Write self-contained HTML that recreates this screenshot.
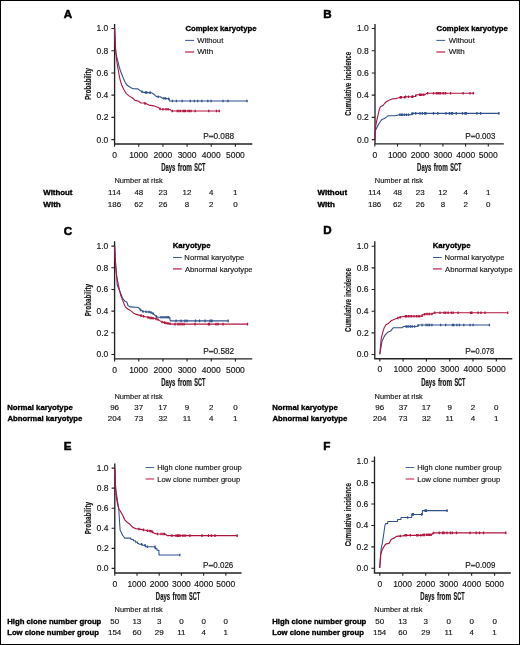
<!DOCTYPE html>
<html><head><meta charset="utf-8"><style>
html,body{margin:0;padding:0;background:#fff;}
#fig{position:relative;width:520px;height:645px;box-sizing:border-box;border:1px solid #000;overflow:hidden;background:#fff;}
svg{position:absolute;left:-1px;top:-1px;will-change:transform;filter:blur(0.3px);}
text{font-family:"Liberation Sans",sans-serif;}
</style></head><body><div id="fig">
<svg width="520" height="645" viewBox="0 0 520 645">
<g><text x="63.82" y="17.8" font-size="11.6" font-weight="bold" fill="#000" stroke="#000" stroke-width="0.55">A</text>
<path d="M114.6 24V144H252.3" fill="none" stroke="#222" stroke-width="1.35"/>
<text x="96.51" y="142.5" font-size="8.5" fill="#141414" stroke="#141414" stroke-width="0.15">0.0</text>
<text x="96.61" y="120.28" font-size="8.5" fill="#141414" stroke="#141414" stroke-width="0.15">0.2</text>
<text x="96.42" y="98.06" font-size="8.5" fill="#141414" stroke="#141414" stroke-width="0.15">0.4</text>
<text x="96.54" y="75.84" font-size="8.5" fill="#141414" stroke="#141414" stroke-width="0.15">0.6</text>
<text x="96.54" y="53.62" font-size="8.5" fill="#141414" stroke="#141414" stroke-width="0.15">0.8</text>
<text x="96.51" y="31.4" font-size="8.5" fill="#141414" stroke="#141414" stroke-width="0.15">1.0</text>
<text x="112.24" y="157.7" font-size="8.5" fill="#141414" stroke="#141414" stroke-width="0.15">0</text>
<text x="129.15" y="157.7" font-size="8.5" fill="#141414" stroke="#141414" stroke-width="0.15">1000</text>
<text x="153.42" y="157.7" font-size="8.5" fill="#141414" stroke="#141414" stroke-width="0.15">2000</text>
<text x="177.63" y="157.7" font-size="8.5" fill="#141414" stroke="#141414" stroke-width="0.15">3000</text>
<text x="201.86" y="157.7" font-size="8.5" fill="#141414" stroke="#141414" stroke-width="0.15">4000</text>
<text x="225.94" y="157.7" font-size="8.5" fill="#141414" stroke="#141414" stroke-width="0.15">5000</text>
<path d="M111.4 139.6h3.2M111.4 117.38h3.2M111.4 95.16h3.2M111.4 72.94h3.2M111.4 50.72h3.2M111.4 28.5h3.2M114.6 144v2.8M138.76 144v2.8M162.92 144v2.8M187.08 144v2.8M211.24 144v2.8M235.4 144v2.8" stroke="#222" stroke-width="1.1" fill="none"/>
<text transform="translate(161.16 170.8) scale(0.5954 1)" font-size="10" font-weight="bold" fill="#141414" stroke="#141414" stroke-width="0.2">Days</text>
<text transform="translate(177.85 170.8) scale(0.6337 1)" font-size="10" font-weight="bold" fill="#141414" stroke="#141414" stroke-width="0.2">from</text>
<text transform="translate(194.29 170.8) scale(0.5550 1)" font-size="10" font-weight="bold" fill="#141414" stroke="#141414" stroke-width="0.2">SCT</text>
<text transform="translate(91.2 99.3) rotate(-90) translate(-0.41 0) scale(0.6265 1)" font-size="9.8" font-weight="bold" fill="#141414" stroke="#141414" stroke-width="0.2">Probability</text>
<text transform="translate(203.32 138.5) scale(1.0048 1)" font-size="8.2" fill="#141414" stroke="#141414" stroke-width="0.15">P</text>
<path d="M208.8 136.5H213.5" stroke="#444" stroke-width="1.7"/>
<text transform="translate(213.49 138.5) scale(1.0070 1)" font-size="8.2" fill="#141414" stroke="#141414" stroke-width="0.15">0.088</text>
<text transform="translate(185.39 30.8) scale(0.9765 1)" font-size="7.9" font-weight="bold" fill="#000" stroke="#000" stroke-width="0.35">Complex karyotype</text>
<path d="M185.1 40.4H194.1" stroke="#3d5e9c" stroke-width="1.05"/>
<path d="M185.1 52H194.1" stroke="#c83a62" stroke-width="1.4"/>
<text transform="translate(197.17 42.8) scale(0.9775 1)" font-size="7.9" fill="#141414" stroke="#141414" stroke-width="0.15">Without</text>
<text transform="translate(197.17 54.1) scale(1.0221 1)" font-size="7.9" fill="#141414" stroke="#141414" stroke-width="0.15">With</text>
<text transform="translate(114.39 183.1) scale(0.9482 1)" font-size="7.85" fill="#141414" stroke="#141414" stroke-width="0.15">Number at risk</text>
<text transform="translate(43.3 195) scale(0.9956 1)" font-size="7.9" font-weight="bold" fill="#000" stroke="#000" stroke-width="0.35">Without</text>
<text transform="translate(108.04 195) scale(1.0800 1)" font-size="7.4" fill="#141414" stroke="#141414" stroke-width="0.15">114</text>
<text transform="translate(134.4 195) scale(1.0800 1)" font-size="7.4" fill="#141414" stroke="#141414" stroke-width="0.15">48</text>
<text transform="translate(158.44 195) scale(1.0800 1)" font-size="7.4" fill="#141414" stroke="#141414" stroke-width="0.15">23</text>
<text transform="translate(182.53 195) scale(1.0800 1)" font-size="7.4" fill="#141414" stroke="#141414" stroke-width="0.15">12</text>
<text transform="translate(209.04 195) scale(1.0800 1)" font-size="7.4" fill="#141414" stroke="#141414" stroke-width="0.15">4</text>
<text transform="translate(233.07 195) scale(1.0800 1)" font-size="7.4" fill="#141414" stroke="#141414" stroke-width="0.15">1</text>
<text transform="translate(43.3 206.6) scale(1.0267 1)" font-size="7.9" font-weight="bold" fill="#000" stroke="#000" stroke-width="0.35">With</text>
<text transform="translate(107.8 206.6) scale(1.0800 1)" font-size="7.4" fill="#141414" stroke="#141414" stroke-width="0.15">186</text>
<text transform="translate(134.32 206.6) scale(1.0800 1)" font-size="7.4" fill="#141414" stroke="#141414" stroke-width="0.15">62</text>
<text transform="translate(158.44 206.6) scale(1.0800 1)" font-size="7.4" fill="#141414" stroke="#141414" stroke-width="0.15">26</text>
<text transform="translate(184.86 206.6) scale(1.0800 1)" font-size="7.4" fill="#141414" stroke="#141414" stroke-width="0.15">8</text>
<text transform="translate(209.02 206.6) scale(1.0800 1)" font-size="7.4" fill="#141414" stroke="#141414" stroke-width="0.15">2</text>
<text transform="translate(233.18 206.6) scale(1.0800 1)" font-size="7.4" fill="#141414" stroke="#141414" stroke-width="0.15">0</text>
<path d="M114.6 28.5 L115.1 40 L115.7 51.3 L116.4 55 L117.3 59 L119.2 66.8 L120.5 71 L121.9 74.5 L123.1 77.6 L124.5 81 L125.6 83.1 L127.5 85.6 L130.6 87.4 L133.1 88.7 L138 88.9 L140.3 90.7 L143.2 92.4 L147.2 92.6 L150.7 92.6 L153 93.5 L155.3 95.6 L157 96.8 L160.5 96.8 L162.2 98.1 L168 98.7 L169.2 98.7 L169.4 101 L247.7 101" fill="none" stroke="#30528c" stroke-width="1.1" stroke-linejoin="round"/>
<path d="M114.6 28.5 L115.1 40 L115.7 51.3 L116.5 59 L117.7 66.8 L118.6 72 L119.6 77.6 L120.6 81.5 L121.9 85.6 L124.4 90.5 L126.3 93.6 L129.4 96.1 L132.5 98 L135 100.4 L138 101 L140.9 103 L143.8 103 L146.7 103.9 L149 105.1 L152.4 105.6 L155.3 106.2 L158.2 107.4 L159.9 108.8 L161.6 109.3 L168.6 109.3 L170.3 109.7 L171.4 111 L220 111" fill="none" stroke="#b0153f" stroke-width="1.1" stroke-linejoin="round"/>
<path d="M142 90.4v2.6M145.5 91.22v2.6M146.7 91.27v2.6M150.1 91.3v2.6M158.2 95.5v2.6M164 96.99v2.6M165.7 97.16v2.6M168.6 97.4v2.6M172.4 99.7v2.6M176.4 99.7v2.6M182.2 99.7v2.6M190.3 99.7v2.6M194.4 99.7v2.6M197.7 99.7v2.6M201.8 99.7v2.6M207.8 99.7v2.6M211.1 99.7v2.6M223 99.7v2.6M227.9 99.7v2.6M246.9 99.7v2.6" stroke="#30528c" stroke-width="1.3" fill="none"/>
<path d="M145 102.07v2.6M160 107.53v2.6M163 108v2.6M166 108v2.6M168 108v2.6M172.4 109.7v2.6M177.3 109.7v2.6M178.9 109.7v2.6M180.5 109.7v2.6M183 109.7v2.6M184.3 109.7v2.6M185.4 109.7v2.6M187.9 109.7v2.6M189.5 109.7v2.6M191.1 109.7v2.6M195.2 109.7v2.6M208.8 109.7v2.6M216.5 109.7v2.6M219.2 109.7v2.6" stroke="#b0153f" stroke-width="1.3" fill="none"/></g>
<g><text x="323.33" y="17.8" font-size="11.6" font-weight="bold" fill="#000" stroke="#000" stroke-width="0.55">B</text>
<path d="M375 24V143.8H503.8" fill="none" stroke="#222" stroke-width="1.35"/>
<text x="356.91" y="142.5" font-size="8.5" fill="#141414" stroke="#141414" stroke-width="0.15">0.0</text>
<text x="357.01" y="120.28" font-size="8.5" fill="#141414" stroke="#141414" stroke-width="0.15">0.2</text>
<text x="356.82" y="98.06" font-size="8.5" fill="#141414" stroke="#141414" stroke-width="0.15">0.4</text>
<text x="356.94" y="75.84" font-size="8.5" fill="#141414" stroke="#141414" stroke-width="0.15">0.6</text>
<text x="356.94" y="53.62" font-size="8.5" fill="#141414" stroke="#141414" stroke-width="0.15">0.8</text>
<text x="356.91" y="31.4" font-size="8.5" fill="#141414" stroke="#141414" stroke-width="0.15">1.0</text>
<text x="372.44" y="157.5" font-size="8.5" fill="#141414" stroke="#141414" stroke-width="0.15">0</text>
<text x="387.89" y="157.5" font-size="8.5" fill="#141414" stroke="#141414" stroke-width="0.15">1000</text>
<text x="410.7" y="157.5" font-size="8.5" fill="#141414" stroke="#141414" stroke-width="0.15">2000</text>
<text x="433.45" y="157.5" font-size="8.5" fill="#141414" stroke="#141414" stroke-width="0.15">3000</text>
<text x="456.22" y="157.5" font-size="8.5" fill="#141414" stroke="#141414" stroke-width="0.15">4000</text>
<text x="478.84" y="157.5" font-size="8.5" fill="#141414" stroke="#141414" stroke-width="0.15">5000</text>
<path d="M371.8 139.6h3.2M371.8 117.38h3.2M371.8 95.16h3.2M371.8 72.94h3.2M371.8 50.72h3.2M371.8 28.5h3.2M374.8 143.8v2.8M397.5 143.8v2.8M420.2 143.8v2.8M442.9 143.8v2.8M465.6 143.8v2.8M488.3 143.8v2.8" stroke="#222" stroke-width="1.1" fill="none"/>
<text transform="translate(417.11 170.8) scale(0.5954 1)" font-size="10" font-weight="bold" fill="#141414" stroke="#141414" stroke-width="0.2">Days</text>
<text transform="translate(433.8 170.8) scale(0.6337 1)" font-size="10" font-weight="bold" fill="#141414" stroke="#141414" stroke-width="0.2">from</text>
<text transform="translate(450.24 170.8) scale(0.5550 1)" font-size="10" font-weight="bold" fill="#141414" stroke="#141414" stroke-width="0.2">SCT</text>
<text transform="translate(351.4 115.5) rotate(-90) translate(-0.24 0) scale(0.6238 1)" font-size="9.8" font-weight="bold" fill="#141414" stroke="#141414" stroke-width="0.2">Cumulative</text>
<text transform="translate(351.4 115.5) rotate(-90) translate(35.18 0) scale(0.6335 1)" font-size="9.8" font-weight="bold" fill="#141414" stroke="#141414" stroke-width="0.2">incidence</text>
<text transform="translate(465.32 138.5) scale(1.0048 1)" font-size="8.2" fill="#141414" stroke="#141414" stroke-width="0.15">P</text>
<path d="M470.8 136.5H475.5" stroke="#444" stroke-width="1.7"/>
<text transform="translate(475.5 138.5) scale(0.9667 1)" font-size="8.2" fill="#141414" stroke="#141414" stroke-width="0.15">0.003</text>
<text transform="translate(436.59 30.8) scale(0.9765 1)" font-size="7.9" font-weight="bold" fill="#000" stroke="#000" stroke-width="0.35">Complex karyotype</text>
<path d="M436.4 40.4H445.2" stroke="#3d5e9c" stroke-width="1.05"/>
<path d="M436.4 52H445.2" stroke="#c83a62" stroke-width="1.4"/>
<text transform="translate(448.67 42.8) scale(0.9775 1)" font-size="7.9" fill="#141414" stroke="#141414" stroke-width="0.15">Without</text>
<text transform="translate(448.67 54.1) scale(1.0221 1)" font-size="7.9" fill="#141414" stroke="#141414" stroke-width="0.15">With</text>
<text transform="translate(374.79 183.1) scale(0.9482 1)" font-size="7.85" fill="#141414" stroke="#141414" stroke-width="0.15">Number at risk</text>
<text transform="translate(317.5 195) scale(1.0092 1)" font-size="7.9" font-weight="bold" fill="#000" stroke="#000" stroke-width="0.35">Without</text>
<text transform="translate(368.24 195) scale(1.0800 1)" font-size="7.4" fill="#141414" stroke="#141414" stroke-width="0.15">114</text>
<text transform="translate(393.14 195) scale(1.0800 1)" font-size="7.4" fill="#141414" stroke="#141414" stroke-width="0.15">48</text>
<text transform="translate(415.72 195) scale(1.0800 1)" font-size="7.4" fill="#141414" stroke="#141414" stroke-width="0.15">23</text>
<text transform="translate(438.35 195) scale(1.0800 1)" font-size="7.4" fill="#141414" stroke="#141414" stroke-width="0.15">12</text>
<text transform="translate(463.4 195) scale(1.0800 1)" font-size="7.4" fill="#141414" stroke="#141414" stroke-width="0.15">4</text>
<text transform="translate(485.97 195) scale(1.0800 1)" font-size="7.4" fill="#141414" stroke="#141414" stroke-width="0.15">1</text>
<text transform="translate(317.5 206.6) scale(1.0267 1)" font-size="7.9" font-weight="bold" fill="#000" stroke="#000" stroke-width="0.35">With</text>
<text transform="translate(368 206.6) scale(1.0800 1)" font-size="7.4" fill="#141414" stroke="#141414" stroke-width="0.15">186</text>
<text transform="translate(393.06 206.6) scale(1.0800 1)" font-size="7.4" fill="#141414" stroke="#141414" stroke-width="0.15">62</text>
<text transform="translate(415.72 206.6) scale(1.0800 1)" font-size="7.4" fill="#141414" stroke="#141414" stroke-width="0.15">26</text>
<text transform="translate(440.68 206.6) scale(1.0800 1)" font-size="7.4" fill="#141414" stroke="#141414" stroke-width="0.15">8</text>
<text transform="translate(463.38 206.6) scale(1.0800 1)" font-size="7.4" fill="#141414" stroke="#141414" stroke-width="0.15">2</text>
<text transform="translate(486.08 206.6) scale(1.0800 1)" font-size="7.4" fill="#141414" stroke="#141414" stroke-width="0.15">0</text>
<path d="M374.9 139.4 L374.95 131.5 L377 127.3 L378.7 124 L380.4 121.5 L382 119.4 L384.6 118.5 L386.6 116.9 L387.9 115.8 L395 115.8 L396.9 115.4 L398.8 114.8 L410.4 114.8 L412.3 113.6 L413.3 113.4 L499.1 113.4" fill="none" stroke="#30528c" stroke-width="1.1" stroke-linejoin="round"/>
<path d="M374.9 139.4 L375 133 L375.6 127 L376.2 123.1 L377.9 115.6 L379.5 108.9 L380.4 106.8 L382.9 105.6 L384.6 103.5 L386.6 101.4 L389.6 100.1 L392.1 98.9 L395 98.7 L398.8 97.7 L400.8 97.2 L404.6 97.2 L405.6 96.7 L412.3 96.7 L415.2 96.3 L416.6 94.8 L424.8 94.8 L426.7 93.4 L427.7 93.2 L473.7 93.2" fill="none" stroke="#b0153f" stroke-width="1.1" stroke-linejoin="round"/>
<path d="M399.8 113.5v2.6M401.3 113.5v2.6M402.7 113.5v2.6M404.6 113.5v2.6M406.5 113.5v2.6M408.5 113.5v2.6M411.8 112.62v2.6M412.8 112.2v2.6M415.7 112.1v2.6M420 112.1v2.6M422.4 112.1v2.6M424.8 112.1v2.6M425.8 112.1v2.6M433.5 112.1v2.6M437.8 112.1v2.6M446 112.1v2.6M449.4 112.1v2.6M451.3 112.1v2.6M452.5 112.1v2.6M456.3 112.1v2.6M462.5 112.1v2.6M465 112.1v2.6M466.3 112.1v2.6M476.9 112.1v2.6M480.6 112.1v2.6M498.9 112.1v2.6" stroke="#30528c" stroke-width="1.3" fill="none"/>
<path d="M400.3 96.03v2.6M401.3 95.9v2.6M404.6 95.9v2.6M405.6 95.4v2.6M408.5 95.4v2.6M411.8 95.4v2.6M412.8 95.33v2.6M415.7 94.46v2.6M419.5 93.5v2.6M420.5 93.5v2.6M421.9 93.5v2.6M423.8 93.5v2.6M427.7 91.9v2.6M433.5 91.9v2.6M436.3 91.9v2.6M437.8 91.9v2.6M439.2 91.9v2.6M440.6 91.9v2.6M443.1 91.9v2.6M443.8 91.9v2.6M445.6 91.9v2.6M450.6 91.9v2.6M463.1 91.9v2.6M470 91.9v2.6M473.3 91.9v2.6" stroke="#b0153f" stroke-width="1.3" fill="none"/></g>
<g><text x="63.64" y="234.6" font-size="11.6" font-weight="bold" fill="#000" stroke="#000" stroke-width="0.55">C</text>
<path d="M114.6 241.2V358.8H252.3" fill="none" stroke="#222" stroke-width="1.35"/>
<text x="96.51" y="357.4" font-size="8.5" fill="#141414" stroke="#141414" stroke-width="0.15">0.0</text>
<text x="96.61" y="335.72" font-size="8.5" fill="#141414" stroke="#141414" stroke-width="0.15">0.2</text>
<text x="96.42" y="314.04" font-size="8.5" fill="#141414" stroke="#141414" stroke-width="0.15">0.4</text>
<text x="96.54" y="292.36" font-size="8.5" fill="#141414" stroke="#141414" stroke-width="0.15">0.6</text>
<text x="96.54" y="270.68" font-size="8.5" fill="#141414" stroke="#141414" stroke-width="0.15">0.8</text>
<text x="96.51" y="249" font-size="8.5" fill="#141414" stroke="#141414" stroke-width="0.15">1.0</text>
<text x="112.24" y="372.5" font-size="8.5" fill="#141414" stroke="#141414" stroke-width="0.15">0</text>
<text x="129.15" y="372.5" font-size="8.5" fill="#141414" stroke="#141414" stroke-width="0.15">1000</text>
<text x="153.42" y="372.5" font-size="8.5" fill="#141414" stroke="#141414" stroke-width="0.15">2000</text>
<text x="177.63" y="372.5" font-size="8.5" fill="#141414" stroke="#141414" stroke-width="0.15">3000</text>
<text x="201.86" y="372.5" font-size="8.5" fill="#141414" stroke="#141414" stroke-width="0.15">4000</text>
<text x="225.94" y="372.5" font-size="8.5" fill="#141414" stroke="#141414" stroke-width="0.15">5000</text>
<path d="M111.4 354.5h3.2M111.4 332.82h3.2M111.4 311.14h3.2M111.4 289.46h3.2M111.4 267.78h3.2M111.4 246.1h3.2M114.6 358.8v2.8M138.76 358.8v2.8M162.92 358.8v2.8M187.08 358.8v2.8M211.24 358.8v2.8M235.4 358.8v2.8" stroke="#222" stroke-width="1.1" fill="none"/>
<text transform="translate(161.16 386.4) scale(0.5954 1)" font-size="10" font-weight="bold" fill="#141414" stroke="#141414" stroke-width="0.2">Days</text>
<text transform="translate(177.85 386.4) scale(0.6337 1)" font-size="10" font-weight="bold" fill="#141414" stroke="#141414" stroke-width="0.2">from</text>
<text transform="translate(194.29 386.4) scale(0.5550 1)" font-size="10" font-weight="bold" fill="#141414" stroke="#141414" stroke-width="0.2">SCT</text>
<text transform="translate(91.2 315.9) rotate(-90) translate(-0.41 0) scale(0.6405 1)" font-size="9.8" font-weight="bold" fill="#141414" stroke="#141414" stroke-width="0.2">Probability</text>
<text transform="translate(203.32 353.6) scale(1.0048 1)" font-size="8.2" fill="#141414" stroke="#141414" stroke-width="0.15">P</text>
<path d="M208.8 351.6H213.5" stroke="#444" stroke-width="1.7"/>
<text transform="translate(213.49 353.6) scale(1.0104 1)" font-size="8.2" fill="#141414" stroke="#141414" stroke-width="0.15">0.582</text>
<text transform="translate(172.69 248.2) scale(0.9804 1)" font-size="7.9" font-weight="bold" fill="#000" stroke="#000" stroke-width="0.35">Karyotype</text>
<path d="M173 257.5H181.8" stroke="#3d5e9c" stroke-width="1.05"/>
<path d="M173 268.9H181.8" stroke="#c83a62" stroke-width="1.4"/>
<text transform="translate(184.37 260.1) scale(0.9719 1)" font-size="7.9" fill="#141414" stroke="#141414" stroke-width="0.15">Normal karyotype</text>
<text transform="translate(184.98 271.5) scale(0.9630 1)" font-size="7.9" fill="#141414" stroke="#141414" stroke-width="0.15">Abnormal karyotype</text>
<text transform="translate(114.39 398.9) scale(0.9482 1)" font-size="7.85" fill="#141414" stroke="#141414" stroke-width="0.15">Number at risk</text>
<text transform="translate(7.19 410.1) scale(0.9826 1)" font-size="7.9" font-weight="bold" fill="#000" stroke="#000" stroke-width="0.35">Normal karyotype</text>
<text transform="translate(110.14 410.1) scale(1.0800 1)" font-size="7.4" fill="#141414" stroke="#141414" stroke-width="0.15">96</text>
<text transform="translate(134.36 410.1) scale(1.0800 1)" font-size="7.4" fill="#141414" stroke="#141414" stroke-width="0.15">37</text>
<text transform="translate(158.37 410.1) scale(1.0800 1)" font-size="7.4" fill="#141414" stroke="#141414" stroke-width="0.15">17</text>
<text transform="translate(184.86 410.1) scale(1.0800 1)" font-size="7.4" fill="#141414" stroke="#141414" stroke-width="0.15">9</text>
<text transform="translate(209.02 410.1) scale(1.0800 1)" font-size="7.4" fill="#141414" stroke="#141414" stroke-width="0.15">2</text>
<text transform="translate(233.18 410.1) scale(1.0800 1)" font-size="7.4" fill="#141414" stroke="#141414" stroke-width="0.15">0</text>
<text transform="translate(7.51 421.3) scale(0.9811 1)" font-size="7.9" font-weight="bold" fill="#000" stroke="#000" stroke-width="0.35">Abnormal karyotype</text>
<text transform="translate(107.85 421.3) scale(1.0800 1)" font-size="7.4" fill="#141414" stroke="#141414" stroke-width="0.15">204</text>
<text transform="translate(134.28 421.3) scale(1.0800 1)" font-size="7.4" fill="#141414" stroke="#141414" stroke-width="0.15">73</text>
<text transform="translate(158.52 421.3) scale(1.0800 1)" font-size="7.4" fill="#141414" stroke="#141414" stroke-width="0.15">32</text>
<text transform="translate(182.82 421.3) scale(1.0800 1)" font-size="7.4" fill="#141414" stroke="#141414" stroke-width="0.15">11</text>
<text transform="translate(209.04 421.3) scale(1.0800 1)" font-size="7.4" fill="#141414" stroke="#141414" stroke-width="0.15">4</text>
<text transform="translate(233.07 421.3) scale(1.0800 1)" font-size="7.4" fill="#141414" stroke="#141414" stroke-width="0.15">1</text>
<path d="M114.6 246.1 L115.2 258 L115.9 268 L116.6 276 L117.2 285 L120.1 291.9 L122.4 297.7 L124.7 301.1 L127 302.3 L128.1 305.8 L130.5 306.9 L138.5 307.5 L140.3 309.8 L143.1 311.5 L150.1 312.1 L153.5 313.8 L155.8 316.1 L157.6 317.3 L169.7 317.3 L170.2 320.9 L228.4 320.9" fill="none" stroke="#30528c" stroke-width="1.1" stroke-linejoin="round"/>
<path d="M114.6 246.1 L115.2 258 L115.9 268 L116.6 275.8 L118.9 287.3 L120.7 295.4 L123 301.1 L125.3 306.9 L128.1 309.2 L131 310.9 L133.9 313.3 L136.2 314.4 L140.8 315.6 L145.4 316.7 L150.1 317.9 L154.7 318.4 L158.1 319.6 L161.6 321.9 L166.2 323.1 L169.7 323.6 L171.4 324.1 L247.8 324.1" fill="none" stroke="#b0153f" stroke-width="1.1" stroke-linejoin="round"/>
<path d="M140.5 308.62v2.6M143 310.14v2.6M146 310.45v2.6M149 310.71v2.6M151 311.25v2.6M153 312.25v2.6M156.5 315.27v2.6M161 316v2.6M163 316v2.6M165 316v2.6M167 316v2.6M168.5 316v2.6M176 319.6v2.6M181 319.6v2.6M185 319.6v2.6M187 319.6v2.6M195.5 319.6v2.6M199.5 319.6v2.6M205 319.6v2.6M210 319.6v2.6M211.5 319.6v2.6M212 319.6v2.6M228.2 319.6v2.6" stroke="#30528c" stroke-width="1.3" fill="none"/>
<path d="M141 314.35v2.6M143.5 314.95v2.6M148 316.06v2.6M150 316.57v2.6M151.5 316.75v2.6M153 316.92v2.6M156 317.56v2.6M158 318.26v2.6M162 320.7v2.6M164.5 321.36v2.6M166 321.75v2.6M168 322.06v2.6M170 322.39v2.6M175 322.8v2.6M178 322.8v2.6M180 322.8v2.6M182 322.8v2.6M184 322.8v2.6M195 322.8v2.6M208.5 322.8v2.6M209.5 322.8v2.6M216 322.8v2.6M218 322.8v2.6M223 322.8v2.6M247.5 322.8v2.6" stroke="#b0153f" stroke-width="1.3" fill="none"/></g>
<g><text x="323.33" y="234.4" font-size="11.6" font-weight="bold" fill="#000" stroke="#000" stroke-width="0.55">D</text>
<path d="M374.8 241.2V358.7H512.3" fill="none" stroke="#222" stroke-width="1.35"/>
<text x="356.71" y="357.4" font-size="8.5" fill="#141414" stroke="#141414" stroke-width="0.15">0.0</text>
<text x="356.81" y="335.74" font-size="8.5" fill="#141414" stroke="#141414" stroke-width="0.15">0.2</text>
<text x="356.62" y="314.08" font-size="8.5" fill="#141414" stroke="#141414" stroke-width="0.15">0.4</text>
<text x="356.74" y="292.42" font-size="8.5" fill="#141414" stroke="#141414" stroke-width="0.15">0.6</text>
<text x="356.74" y="270.76" font-size="8.5" fill="#141414" stroke="#141414" stroke-width="0.15">0.8</text>
<text x="356.71" y="249.1" font-size="8.5" fill="#141414" stroke="#141414" stroke-width="0.15">1.0</text>
<text x="377.44" y="372.4" font-size="8.5" fill="#141414" stroke="#141414" stroke-width="0.15">0</text>
<text x="393.49" y="372.4" font-size="8.5" fill="#141414" stroke="#141414" stroke-width="0.15">1000</text>
<text x="416.9" y="372.4" font-size="8.5" fill="#141414" stroke="#141414" stroke-width="0.15">2000</text>
<text x="440.25" y="372.4" font-size="8.5" fill="#141414" stroke="#141414" stroke-width="0.15">3000</text>
<text x="463.62" y="372.4" font-size="8.5" fill="#141414" stroke="#141414" stroke-width="0.15">4000</text>
<text x="486.84" y="372.4" font-size="8.5" fill="#141414" stroke="#141414" stroke-width="0.15">5000</text>
<path d="M371.6 354.5h3.2M371.6 332.84h3.2M371.6 311.18h3.2M371.6 289.52h3.2M371.6 267.86h3.2M371.6 246.2h3.2M379.8 358.7v2.8M403.1 358.7v2.8M426.4 358.7v2.8M449.7 358.7v2.8M473 358.7v2.8M496.3 358.7v2.8" stroke="#222" stroke-width="1.1" fill="none"/>
<text transform="translate(421.26 386.4) scale(0.5954 1)" font-size="10" font-weight="bold" fill="#141414" stroke="#141414" stroke-width="0.2">Days</text>
<text transform="translate(437.95 386.4) scale(0.6337 1)" font-size="10" font-weight="bold" fill="#141414" stroke="#141414" stroke-width="0.2">from</text>
<text transform="translate(454.39 386.4) scale(0.5550 1)" font-size="10" font-weight="bold" fill="#141414" stroke="#141414" stroke-width="0.2">SCT</text>
<text transform="translate(351.4 331.75) rotate(-90) translate(-0.24 0) scale(0.6229 1)" font-size="9.8" font-weight="bold" fill="#141414" stroke="#141414" stroke-width="0.2">Cumulative</text>
<text transform="translate(351.4 331.75) rotate(-90) translate(35.12 0) scale(0.6325 1)" font-size="9.8" font-weight="bold" fill="#141414" stroke="#141414" stroke-width="0.2">incidence</text>
<text transform="translate(465.32 353.6) scale(1.0048 1)" font-size="8.2" fill="#141414" stroke="#141414" stroke-width="0.15">P</text>
<path d="M470.8 351.6H475.5" stroke="#444" stroke-width="1.7"/>
<text transform="translate(475.52 353.6) scale(0.9063 1)" font-size="8.2" fill="#141414" stroke="#141414" stroke-width="0.15">0.078</text>
<text transform="translate(432.69 248.2) scale(0.9804 1)" font-size="7.9" font-weight="bold" fill="#000" stroke="#000" stroke-width="0.35">Karyotype</text>
<path d="M433 257.5H441.8" stroke="#3d5e9c" stroke-width="1.05"/>
<path d="M433 268.9H441.8" stroke="#c83a62" stroke-width="1.4"/>
<text transform="translate(444.47 260.1) scale(0.9719 1)" font-size="7.9" fill="#141414" stroke="#141414" stroke-width="0.15">Normal karyotype</text>
<text transform="translate(445.08 271.5) scale(0.9630 1)" font-size="7.9" fill="#141414" stroke="#141414" stroke-width="0.15">Abnormal karyotype</text>
<text transform="translate(374.59 398.9) scale(0.9482 1)" font-size="7.85" fill="#141414" stroke="#141414" stroke-width="0.15">Number at risk</text>
<text transform="translate(272.19 410.1) scale(0.9826 1)" font-size="7.9" font-weight="bold" fill="#000" stroke="#000" stroke-width="0.35">Normal karyotype</text>
<text transform="translate(375.34 410.1) scale(1.0800 1)" font-size="7.4" fill="#141414" stroke="#141414" stroke-width="0.15">96</text>
<text transform="translate(398.7 410.1) scale(1.0800 1)" font-size="7.4" fill="#141414" stroke="#141414" stroke-width="0.15">37</text>
<text transform="translate(421.85 410.1) scale(1.0800 1)" font-size="7.4" fill="#141414" stroke="#141414" stroke-width="0.15">17</text>
<text transform="translate(447.48 410.1) scale(1.0800 1)" font-size="7.4" fill="#141414" stroke="#141414" stroke-width="0.15">9</text>
<text transform="translate(470.78 410.1) scale(1.0800 1)" font-size="7.4" fill="#141414" stroke="#141414" stroke-width="0.15">2</text>
<text transform="translate(494.08 410.1) scale(1.0800 1)" font-size="7.4" fill="#141414" stroke="#141414" stroke-width="0.15">0</text>
<text transform="translate(272.51 421.3) scale(0.9811 1)" font-size="7.9" font-weight="bold" fill="#000" stroke="#000" stroke-width="0.35">Abnormal karyotype</text>
<text transform="translate(373.05 421.3) scale(1.0800 1)" font-size="7.4" fill="#141414" stroke="#141414" stroke-width="0.15">204</text>
<text transform="translate(398.62 421.3) scale(1.0800 1)" font-size="7.4" fill="#141414" stroke="#141414" stroke-width="0.15">73</text>
<text transform="translate(422 421.3) scale(1.0800 1)" font-size="7.4" fill="#141414" stroke="#141414" stroke-width="0.15">32</text>
<text transform="translate(445.44 421.3) scale(1.0800 1)" font-size="7.4" fill="#141414" stroke="#141414" stroke-width="0.15">11</text>
<text transform="translate(470.8 421.3) scale(1.0800 1)" font-size="7.4" fill="#141414" stroke="#141414" stroke-width="0.15">4</text>
<text transform="translate(493.97 421.3) scale(1.0800 1)" font-size="7.4" fill="#141414" stroke="#141414" stroke-width="0.15">1</text>
<path d="M379.8 354.2 L380.8 348.4 L381.9 341.5 L383.7 337.5 L385.4 334.6 L387.7 332.3 L390.6 331.1 L392.3 328.8 L393.5 327.7 L401.9 327.7 L403.7 326.5 L416.9 326.5 L418.6 325 L489.6 325" fill="none" stroke="#30528c" stroke-width="1.1" stroke-linejoin="round"/>
<path d="M379.8 354.2 L380.5 346.1 L381.3 338.1 L382.5 333.4 L384.2 327.7 L386 324.8 L388.3 323.6 L391.1 320.8 L394 319.4 L395 319 L398.5 317.8 L401.9 316.7 L406.5 316.3 L421.5 316.3 L422.7 314.9 L425 314 L431.9 314 L434.2 312.8 L508 312.8" fill="none" stroke="#b0153f" stroke-width="1.1" stroke-linejoin="round"/>
<path d="M406 325.2v2.6M407.1 325.2v2.6M408.8 325.2v2.6M410.6 325.2v2.6M412.3 325.2v2.6M414.6 325.2v2.6M418.1 324.14v2.6M422.1 323.7v2.6M426.1 323.7v2.6M427.9 323.7v2.6M429.6 323.7v2.6M431.9 323.7v2.6M440.6 323.7v2.6M445.7 323.7v2.6M452.5 323.7v2.6M453.8 323.7v2.6M456.9 323.7v2.6M459.4 323.7v2.6M463.8 323.7v2.6M470 323.7v2.6M473.1 323.7v2.6M489.4 323.7v2.6" stroke="#30528c" stroke-width="1.3" fill="none"/>
<path d="M397.9 316.71v2.6M400.2 315.95v2.6M405.4 315.1v2.6M406.5 315v2.6M408.3 315v2.6M410 315v2.6M411.7 315v2.6M414 315v2.6M416.3 315v2.6M418.1 315v2.6M419.8 315v2.6M422.1 314.3v2.6M424.4 312.93v2.6M426.1 312.7v2.6M427.9 312.7v2.6M429.6 312.7v2.6M431.9 312.7v2.6M434.8 311.5v2.6M440 311.5v2.6M444 311.5v2.6M445.7 311.5v2.6M448.1 311.5v2.6M451.3 311.5v2.6M453.1 311.5v2.6M458.1 311.5v2.6M470.6 311.5v2.6M471.9 311.5v2.6M478.1 311.5v2.6M481 311.5v2.6M485 311.5v2.6M507.7 311.5v2.6" stroke="#b0153f" stroke-width="1.3" fill="none"/></g>
<g><text x="63.73" y="449.6" font-size="11.6" font-weight="bold" fill="#000" stroke="#000" stroke-width="0.55">E</text>
<path d="M114.8 463.5V573H241.5" fill="none" stroke="#222" stroke-width="1.35"/>
<text x="96.71" y="571.3" font-size="8.5" fill="#141414" stroke="#141414" stroke-width="0.15">0.0</text>
<text x="96.81" y="551.24" font-size="8.5" fill="#141414" stroke="#141414" stroke-width="0.15">0.2</text>
<text x="96.62" y="531.18" font-size="8.5" fill="#141414" stroke="#141414" stroke-width="0.15">0.4</text>
<text x="96.74" y="511.12" font-size="8.5" fill="#141414" stroke="#141414" stroke-width="0.15">0.6</text>
<text x="96.74" y="491.06" font-size="8.5" fill="#141414" stroke="#141414" stroke-width="0.15">0.8</text>
<text x="96.71" y="471" font-size="8.5" fill="#141414" stroke="#141414" stroke-width="0.15">1.0</text>
<text x="112.44" y="586.7" font-size="8.5" fill="#141414" stroke="#141414" stroke-width="0.15">0</text>
<text x="127.39" y="586.7" font-size="8.5" fill="#141414" stroke="#141414" stroke-width="0.15">1000</text>
<text x="149.7" y="586.7" font-size="8.5" fill="#141414" stroke="#141414" stroke-width="0.15">2000</text>
<text x="171.95" y="586.7" font-size="8.5" fill="#141414" stroke="#141414" stroke-width="0.15">3000</text>
<text x="194.22" y="586.7" font-size="8.5" fill="#141414" stroke="#141414" stroke-width="0.15">4000</text>
<text x="216.34" y="586.7" font-size="8.5" fill="#141414" stroke="#141414" stroke-width="0.15">5000</text>
<path d="M111.6 568.4h3.2M111.6 548.34h3.2M111.6 528.28h3.2M111.6 508.22h3.2M111.6 488.16h3.2M111.6 468.1h3.2M114.8 573v2.8M137 573v2.8M159.2 573v2.8M181.4 573v2.8M203.6 573v2.8M225.8 573v2.8" stroke="#222" stroke-width="1.1" fill="none"/>
<text transform="translate(155.86 600.3) scale(0.5954 1)" font-size="10" font-weight="bold" fill="#141414" stroke="#141414" stroke-width="0.2">Days</text>
<text transform="translate(172.55 600.3) scale(0.6337 1)" font-size="10" font-weight="bold" fill="#141414" stroke="#141414" stroke-width="0.2">from</text>
<text transform="translate(188.99 600.3) scale(0.5550 1)" font-size="10" font-weight="bold" fill="#141414" stroke="#141414" stroke-width="0.2">SCT</text>
<text transform="translate(91.2 533.9) rotate(-90) translate(-0.41 0) scale(0.6405 1)" font-size="9.8" font-weight="bold" fill="#141414" stroke="#141414" stroke-width="0.2">Probability</text>
<text transform="translate(203.12 567.6) scale(1.0048 1)" font-size="8.2" fill="#141414" stroke="#141414" stroke-width="0.15">P</text>
<path d="M208.6 565.6H213.3" stroke="#444" stroke-width="1.7"/>
<text transform="translate(213.3 567.6) scale(0.9768 1)" font-size="8.2" fill="#141414" stroke="#141414" stroke-width="0.15">0.026</text>
<path d="M145.6 467.5H154.2" stroke="#3d5e9c" stroke-width="0.95"/>
<path d="M145.6 479H154.2" stroke="#c83a62" stroke-width="1.2"/>
<text transform="translate(157.18 470) scale(0.9540 1)" font-size="7.9" fill="#141414" stroke="#141414" stroke-width="0.15">High clone number group</text>
<text transform="translate(157.18 482) scale(0.9560 1)" font-size="7.9" fill="#141414" stroke="#141414" stroke-width="0.15">Low clone number group</text>
<text transform="translate(114.59 612.4) scale(0.9482 1)" font-size="7.85" fill="#141414" stroke="#141414" stroke-width="0.15">Number at risk</text>
<text transform="translate(7.19 623.9) scale(0.9814 1)" font-size="7.9" font-weight="bold" fill="#000" stroke="#000" stroke-width="0.35">High clone number group</text>
<text transform="translate(110.35 623.9) scale(1.0800 1)" font-size="7.4" fill="#141414" stroke="#141414" stroke-width="0.15">50</text>
<text transform="translate(132.42 623.9) scale(1.0800 1)" font-size="7.4" fill="#141414" stroke="#141414" stroke-width="0.15">13</text>
<text transform="translate(156.99 623.9) scale(1.0800 1)" font-size="7.4" fill="#141414" stroke="#141414" stroke-width="0.15">3</text>
<text transform="translate(179.18 623.9) scale(1.0800 1)" font-size="7.4" fill="#141414" stroke="#141414" stroke-width="0.15">0</text>
<text transform="translate(201.38 623.9) scale(1.0800 1)" font-size="7.4" fill="#141414" stroke="#141414" stroke-width="0.15">0</text>
<text transform="translate(223.58 623.9) scale(1.0800 1)" font-size="7.4" fill="#141414" stroke="#141414" stroke-width="0.15">0</text>
<text transform="translate(7.19 635.3) scale(0.9731 1)" font-size="7.9" font-weight="bold" fill="#000" stroke="#000" stroke-width="0.35">Low clone number group</text>
<text transform="translate(107.94 635.3) scale(1.0800 1)" font-size="7.4" fill="#141414" stroke="#141414" stroke-width="0.15">154</text>
<text transform="translate(132.51 635.3) scale(1.0800 1)" font-size="7.4" fill="#141414" stroke="#141414" stroke-width="0.15">60</text>
<text transform="translate(154.74 635.3) scale(1.0800 1)" font-size="7.4" fill="#141414" stroke="#141414" stroke-width="0.15">29</text>
<text transform="translate(177.14 635.3) scale(1.0800 1)" font-size="7.4" fill="#141414" stroke="#141414" stroke-width="0.15">11</text>
<text transform="translate(201.4 635.3) scale(1.0800 1)" font-size="7.4" fill="#141414" stroke="#141414" stroke-width="0.15">4</text>
<text transform="translate(223.47 635.3) scale(1.0800 1)" font-size="7.4" fill="#141414" stroke="#141414" stroke-width="0.15">1</text>
<path d="M114.8 468.4 L115.7 488.6 L117 497.3 L118 504 L118.7 508.5 L119.4 519.2 L120.1 530 L121.4 532.7 L122.7 535.4 L123.5 536.5 L124.8 538.1 L130.8 538.1 L130.9 539.4 L133.3 539.4 L133.4 540.8 L135.4 540.8 L135.5 542.1 L137.5 542.1 L137.6 543.5 L138.9 543.5 L139 544.3 L142.3 544.3 L142.4 545.3 L145.4 545.3 L145.5 546.8 L155 546.8 L155.1 548.6 L156.9 548.6 L157 550.2 L158.9 550.2 L159 555 L180 555" fill="none" stroke="#30528c" stroke-width="1.05" stroke-linejoin="round"/>
<path d="M114.8 468.4 L115.4 485 L116 495 L117.4 503.1 L118.7 508.5 L120.7 511.8 L122.7 515.2 L124.8 519.9 L127.5 522.6 L130.2 524.6 L132.8 527.3 L135.5 528.6 L140.9 529.3 L144.3 530 L147.6 530.7 L151.7 531.3 L154.4 533.4 L157.1 534 L165.1 534 L167.2 535.6 L237.3 535.6" fill="none" stroke="#b0153f" stroke-width="1.2" stroke-linejoin="round"/>
<path d="M141.6 543v2.6M145 544v2.6M147.4 545.5v2.6M155 545.5v2.6M179.8 553.7v2.6" stroke="#30528c" stroke-width="1.3" fill="none"/>
<path d="M139 527.75v2.6M143.5 528.54v2.6M147.5 529.38v2.6M150 529.75v2.6M151 529.9v2.6M152.5 530.62v2.6M157.5 532.7v2.6M161 532.7v2.6M163 532.7v2.6M164.5 532.7v2.6M172 534.3v2.6M176 534.3v2.6M177.5 534.3v2.6M178.5 534.3v2.6M180 534.3v2.6M183 534.3v2.6M185 534.3v2.6M190 534.3v2.6M202 534.3v2.6M208.5 534.3v2.6M211.5 534.3v2.6M215 534.3v2.6M237.2 534.3v2.6" stroke="#b0153f" stroke-width="1.3" fill="none"/></g>
<g><text x="323.13" y="449.7" font-size="11.6" font-weight="bold" fill="#000" stroke="#000" stroke-width="0.55">F</text>
<path d="M374.5 456.5V573H510.8" fill="none" stroke="#222" stroke-width="1.35"/>
<text x="356.41" y="571.2" font-size="8.5" fill="#141414" stroke="#141414" stroke-width="0.15">0.0</text>
<text x="356.51" y="549.78" font-size="8.5" fill="#141414" stroke="#141414" stroke-width="0.15">0.2</text>
<text x="356.32" y="528.36" font-size="8.5" fill="#141414" stroke="#141414" stroke-width="0.15">0.4</text>
<text x="356.44" y="506.94" font-size="8.5" fill="#141414" stroke="#141414" stroke-width="0.15">0.6</text>
<text x="356.44" y="485.52" font-size="8.5" fill="#141414" stroke="#141414" stroke-width="0.15">0.8</text>
<text x="356.41" y="464.1" font-size="8.5" fill="#141414" stroke="#141414" stroke-width="0.15">1.0</text>
<text x="377.44" y="586.7" font-size="8.5" fill="#141414" stroke="#141414" stroke-width="0.15">0</text>
<text x="393.15" y="586.7" font-size="8.5" fill="#141414" stroke="#141414" stroke-width="0.15">1000</text>
<text x="416.22" y="586.7" font-size="8.5" fill="#141414" stroke="#141414" stroke-width="0.15">2000</text>
<text x="439.23" y="586.7" font-size="8.5" fill="#141414" stroke="#141414" stroke-width="0.15">3000</text>
<text x="462.26" y="586.7" font-size="8.5" fill="#141414" stroke="#141414" stroke-width="0.15">4000</text>
<text x="485.14" y="586.7" font-size="8.5" fill="#141414" stroke="#141414" stroke-width="0.15">5000</text>
<path d="M371.3 568.3h3.2M371.3 546.88h3.2M371.3 525.46h3.2M371.3 504.04h3.2M371.3 482.62h3.2M371.3 461.2h3.2M379.8 573v2.8M402.76 573v2.8M425.72 573v2.8M448.68 573v2.8M471.64 573v2.8M494.6 573v2.8" stroke="#222" stroke-width="1.1" fill="none"/>
<text transform="translate(420.36 600.3) scale(0.5954 1)" font-size="10" font-weight="bold" fill="#141414" stroke="#141414" stroke-width="0.2">Days</text>
<text transform="translate(437.05 600.3) scale(0.6337 1)" font-size="10" font-weight="bold" fill="#141414" stroke="#141414" stroke-width="0.2">from</text>
<text transform="translate(453.49 600.3) scale(0.5550 1)" font-size="10" font-weight="bold" fill="#141414" stroke="#141414" stroke-width="0.2">SCT</text>
<text transform="translate(351.4 546) rotate(-90) translate(-0.24 0) scale(0.6160 1)" font-size="9.8" font-weight="bold" fill="#141414" stroke="#141414" stroke-width="0.2">Cumulative</text>
<text transform="translate(351.4 546) rotate(-90) translate(34.74 0) scale(0.6255 1)" font-size="9.8" font-weight="bold" fill="#141414" stroke="#141414" stroke-width="0.2">incidence</text>
<text transform="translate(465.32 567.6) scale(1.0048 1)" font-size="8.2" fill="#141414" stroke="#141414" stroke-width="0.15">P</text>
<path d="M470.8 565.6H475.5" stroke="#444" stroke-width="1.7"/>
<text transform="translate(475.5 567.6) scale(0.9683 1)" font-size="8.2" fill="#141414" stroke="#141414" stroke-width="0.15">0.009</text>
<path d="M405.6 467.5H414.2" stroke="#3d5e9c" stroke-width="0.95"/>
<path d="M405.6 479H414.2" stroke="#c83a62" stroke-width="1.2"/>
<text transform="translate(417.18 470) scale(0.9540 1)" font-size="7.9" fill="#141414" stroke="#141414" stroke-width="0.15">High clone number group</text>
<text transform="translate(417.18 482) scale(0.9560 1)" font-size="7.9" fill="#141414" stroke="#141414" stroke-width="0.15">Low clone number group</text>
<text transform="translate(374.29 612.4) scale(0.9482 1)" font-size="7.85" fill="#141414" stroke="#141414" stroke-width="0.15">Number at risk</text>
<text transform="translate(272.19 623.9) scale(0.9814 1)" font-size="7.9" font-weight="bold" fill="#000" stroke="#000" stroke-width="0.35">High clone number group</text>
<text transform="translate(375.35 623.9) scale(1.0800 1)" font-size="7.4" fill="#141414" stroke="#141414" stroke-width="0.15">50</text>
<text transform="translate(398.18 623.9) scale(1.0800 1)" font-size="7.4" fill="#141414" stroke="#141414" stroke-width="0.15">13</text>
<text transform="translate(423.51 623.9) scale(1.0800 1)" font-size="7.4" fill="#141414" stroke="#141414" stroke-width="0.15">3</text>
<text transform="translate(446.46 623.9) scale(1.0800 1)" font-size="7.4" fill="#141414" stroke="#141414" stroke-width="0.15">0</text>
<text transform="translate(469.42 623.9) scale(1.0800 1)" font-size="7.4" fill="#141414" stroke="#141414" stroke-width="0.15">0</text>
<text transform="translate(492.38 623.9) scale(1.0800 1)" font-size="7.4" fill="#141414" stroke="#141414" stroke-width="0.15">0</text>
<text transform="translate(272.19 635.3) scale(0.9731 1)" font-size="7.9" font-weight="bold" fill="#000" stroke="#000" stroke-width="0.35">Low clone number group</text>
<text transform="translate(372.94 635.3) scale(1.0800 1)" font-size="7.4" fill="#141414" stroke="#141414" stroke-width="0.15">154</text>
<text transform="translate(398.27 635.3) scale(1.0800 1)" font-size="7.4" fill="#141414" stroke="#141414" stroke-width="0.15">60</text>
<text transform="translate(421.26 635.3) scale(1.0800 1)" font-size="7.4" fill="#141414" stroke="#141414" stroke-width="0.15">29</text>
<text transform="translate(444.42 635.3) scale(1.0800 1)" font-size="7.4" fill="#141414" stroke="#141414" stroke-width="0.15">11</text>
<text transform="translate(469.44 635.3) scale(1.0800 1)" font-size="7.4" fill="#141414" stroke="#141414" stroke-width="0.15">4</text>
<text transform="translate(492.27 635.3) scale(1.0800 1)" font-size="7.4" fill="#141414" stroke="#141414" stroke-width="0.15">1</text>
<path d="M379.7 568 L380.4 556.7 L381.2 548.6 L382.5 542.2 L383.7 534.1 L384.5 528.5 L384.9 525.7 L385.5 523.6 L387.6 523.6 L387.9 521.4 L397.5 521.4 L397.6 519.5 L400.9 519.5 L401 517.5 L411.7 517.5 L411.8 514.4 L422.3 514.4 L422.4 510.6 L447.3 510.6" fill="none" stroke="#30528c" stroke-width="1.05" stroke-linejoin="round"/>
<path d="M379.7 568 L380.4 560 L380.8 554.3 L382 550.3 L383.7 547 L385.3 544.6 L386.5 543.8 L388.9 543.4 L389.7 542.2 L390.9 539.8 L392 539 L394.6 537.9 L396.3 536.4 L399.2 536.1 L402.7 535.9 L405 535.3 L421.1 535.3 L424.6 534.8 L431.5 534.8 L432.7 533.3 L433.8 532.9 L506.1 532.9" fill="none" stroke="#b0153f" stroke-width="1.2" stroke-linejoin="round"/>
<path d="M407.6 516.2v2.6M412.3 513.1v2.6M413.4 513.1v2.6M421.7 513.1v2.6M425.1 509.3v2.6M426.4 509.3v2.6M447.1 509.3v2.6" stroke="#30528c" stroke-width="1.3" fill="none"/>
<path d="M400.3 534.74v2.6M405.1 534v2.6M406.5 534v2.6M410.4 534v2.6M416.6 534v2.6M418.1 534v2.6M421 534v2.6M422.9 533.74v2.6M424.3 533.54v2.6M426.7 533.5v2.6M428.2 533.5v2.6M429.6 533.5v2.6M431.1 533.5v2.6M433.5 531.71v2.6M439.2 531.6v2.6M442.6 531.6v2.6M444 531.6v2.6M447 531.6v2.6M450.4 531.6v2.6M452.3 531.6v2.6M456.5 531.6v2.6M470 531.6v2.6M476.2 531.6v2.6M479.5 531.6v2.6M483.5 531.6v2.6M505.8 531.6v2.6" stroke="#b0153f" stroke-width="1.3" fill="none"/></g>
</svg></div></body></html>
